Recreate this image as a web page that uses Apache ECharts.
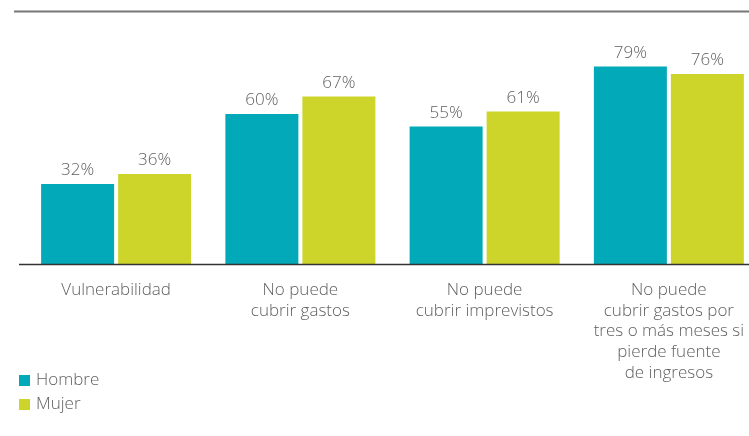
<!DOCTYPE html>
<html>
<head>
<meta charset="utf-8">
<script src="https://cdn.jsdelivr.net/npm/echarts@6/dist/echarts.min.js"></script>
<style>
  html, body { margin: 0; padding: 0; background: #fff; }
  #chart { width: 749px; height: 436px; }
</style>
</head>
<body>
<div id="chart"></div>
<script>
// Categories (x-axis) and percentages per sex
const categories = [
  'Vulnerabilidad',
  'No puede\ncubrir gastos',
  'No puede\ncubrir imprevistos',
  'No puede\ncubrir gastos por\ntres o más meses si\npierde fuente\nde ingresos'
];
const hombre = [32, 60, 55, 79];
const mujer = [36, 67, 61, 76];
const seriesNames = ['Hombre', 'Mujer'];

const FONT = '"Open Sans", sans-serif';
const WEIGHT = 300;
const SIZE = 17;
const TEXT = '#5f5f5f';
const colors = ['#02a9b9', '#cdd52b'];

const chart = echarts.init(document.getElementById('chart'), null, { renderer: 'canvas' });

const labelStyle = {
  show: true,
  position: 'top',
  distance: 5,
  formatter: '{c}%',
  color: TEXT,
  fontFamily: FONT,
  fontWeight: WEIGHT,
  fontSize: SIZE
};

chart.setOption({
  animation: false,
  color: colors,
  grid: { left: 24, width: 737, top: 14, height: 250, outerBoundsMode: 'none' },
  legend: {
    orient: 'vertical',
    left: 14,
    top: 367,
    icon: 'rect',
    itemWidth: 11,
    itemHeight: 11,
    itemGap: 7,
    textStyle: { color: TEXT, fontFamily: FONT, fontWeight: WEIGHT, fontSize: SIZE, padding: [0, 0, 0, 1] },
    data: seriesNames
  },
  xAxis: {
    type: 'category',
    data: categories,
    axisLine: { show: false },
    axisTick: { show: false },
    axisLabel: {
      color: TEXT,
      fontFamily: FONT,
      fontWeight: WEIGHT,
      fontSize: SIZE,
      lineHeight: 20.6,
      margin: 16,
      interval: 0
    }
  },
  yAxis: {
    type: 'value',
    min: 0,
    max: 100,
    show: false,
    splitLine: { show: false }
  },
  series: [
    { name: seriesNames[0], type: 'bar', data: hombre, barWidth: 73, barGap: '5.5%', label: labelStyle },
    { name: seriesNames[1], type: 'bar', data: mujer, barWidth: 73, barGap: '5.5%', label: labelStyle }
  ],
  graphic: [
    // rule across the top of the figure
    { type: 'line', shape: { x1: 14, y1: 11.5, x2: 749, y2: 11.5 }, style: { stroke: '#777', lineWidth: 2 } },
    // baseline of the bars
    { type: 'line', shape: { x1: 19, y1: 264.5, x2: 749, y2: 264.5 }, style: { stroke: '#333', lineWidth: 1.5 }, z: 10 }
  ]
});
</script>
</body>
</html>
